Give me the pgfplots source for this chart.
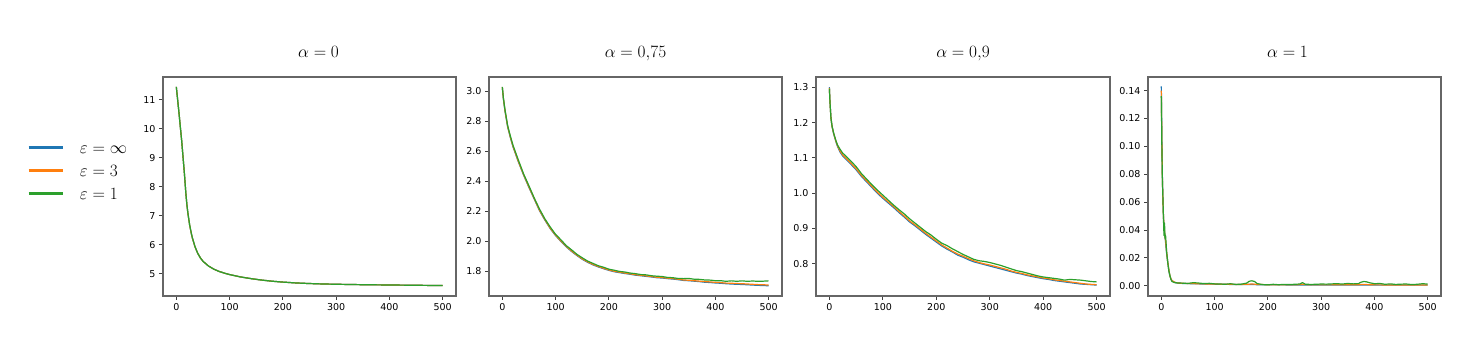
\documentclass[border=0pt]{standalone}
\usepackage{pgfplots}
\pgfplotsset{compat=1.18}
\usepackage{pgfplotstable}
\usepackage{fontspec}
\setmainfont{DejaVu Sans}
\definecolor{c1}{HTML}{1F77B4}
\definecolor{c2}{HTML}{FF7F0E}
\definecolor{c3}{HTML}{2CA02C}

\pgfplotstableread{
x a b c
0 11.45 11.45 11.45
5 10.55 10.55 10.55
10 9.60 9.60 9.60
15 8.50 8.50 8.50
18 7.75 7.75 7.76
20 7.35 7.35 7.36
22 7.05 7.05 7.06
25 6.68 6.68 6.69
28 6.40 6.40 6.41
30 6.24 6.24 6.25
35 5.93 5.93 5.94
40 5.71 5.71 5.71
45 5.55 5.55 5.55
50 5.43 5.43 5.43
60 5.27 5.27 5.27
70 5.16 5.16 5.16
80 5.08 5.08 5.08
90 5.02 5.02 5.02
100 4.97 4.97 4.97
120 4.89 4.89 4.89
140 4.83 4.83 4.83
160 4.78 4.78 4.78
180 4.74 4.74 4.74
200 4.71 4.71 4.71
225 4.68 4.68 4.68
250 4.66 4.66 4.66
275 4.645 4.645 4.645
300 4.635 4.635 4.635
350 4.62 4.62 4.62
400 4.61 4.61 4.61
450 4.60 4.60 4.60
500 4.59 4.59 4.59
}\tA

\pgfplotstableread{
x a b c
0 3.026 3.028 3.030
2 2.951 2.953 2.956
5 2.869 2.872 2.877
10 2.763 2.766 2.772
15 2.693 2.696 2.703
20 2.631 2.634 2.641
30 2.531 2.534 2.543
40 2.441 2.444 2.449
50 2.359 2.362 2.370
60 2.281 2.284 2.288
70 2.203 2.206 2.214
80 2.141 2.144 2.149
90 2.084 2.087 2.095
100 2.038 2.041 2.046
110 1.999 2.002 2.010
120 1.963 1.966 1.971
130 1.932 1.935 1.943
140 1.905 1.908 1.913
150 1.880 1.883 1.890
160 1.860 1.863 1.868
170 1.843 1.846 1.853
180 1.829 1.832 1.837
190 1.817 1.820 1.827
200 1.806 1.809 1.814
210 1.797 1.800 1.807
220 1.791 1.794 1.799
230 1.785 1.788 1.795
240 1.780 1.783 1.788
250 1.774 1.777 1.784
260 1.770 1.773 1.778
270 1.766 1.769 1.776
280 1.762 1.765 1.770
290 1.757 1.760 1.767
300 1.755 1.758 1.765
310 1.751 1.754 1.759
320 1.748 1.751 1.757
330 1.744 1.747 1.752
340 1.739 1.742 1.751
350 1.737 1.740 1.752
360 1.734 1.737 1.747
370 1.731 1.734 1.746
380 1.727 1.731 1.742
390 1.725 1.729 1.741
400 1.722 1.726 1.737
410 1.720 1.724 1.737
420 1.717 1.721 1.733
430 1.715 1.720 1.736
440 1.713 1.718 1.733
450 1.712 1.717 1.736
460 1.710 1.715 1.733
470 1.708 1.713 1.735
480 1.706 1.711 1.733
490 1.705 1.710 1.734
500 1.703 1.708 1.736
}\tB

\pgfplotstableread{
x a b c
0 1.300 1.298 1.296
1 1.264 1.263 1.262
2 1.237 1.236 1.236
3 1.212 1.212 1.212
5 1.189 1.189 1.190
8 1.168 1.169 1.170
12 1.147 1.148 1.150
15 1.133 1.135 1.137
20 1.116 1.119 1.124
25 1.105 1.108 1.113
30 1.097 1.100 1.106
40 1.082 1.085 1.091
50 1.066 1.069 1.075
60 1.047 1.050 1.055
70 1.031 1.034 1.039
80 1.015 1.018 1.023
90 0.999 1.002 1.008
100 0.985 0.988 0.994
110 0.972 0.975 0.980
120 0.959 0.962 0.966
130 0.945 0.948 0.953
140 0.932 0.935 0.941
150 0.918 0.921 0.927
160 0.907 0.910 0.915
170 0.895 0.898 0.903
180 0.883 0.886 0.891
190 0.872 0.875 0.881
200 0.861 0.864 0.869
210 0.850 0.853 0.858
220 0.841 0.844 0.851
230 0.833 0.835 0.842
240 0.824 0.827 0.834
250 0.818 0.821 0.826
260 0.811 0.814 0.819
270 0.805 0.808 0.812
280 0.801 0.803 0.808
290 0.797 0.799 0.806
300 0.793 0.796 0.803
310 0.789 0.792 0.799
320 0.785 0.788 0.795
330 0.781 0.784 0.790
340 0.777 0.779 0.785
350 0.773 0.775 0.780
360 0.770 0.772 0.777
370 0.766 0.768 0.773
380 0.763 0.765 0.769
390 0.760 0.762 0.765
400 0.757 0.759 0.762
410 0.755 0.757 0.760
420 0.752 0.754 0.758
430 0.750 0.752 0.756
440 0.748 0.750 0.753
450 0.746 0.748 0.755
460 0.744 0.746 0.754
470 0.742 0.744 0.753
480 0.741 0.742 0.751
490 0.740 0.741 0.749
500 0.739 0.740 0.748
}\tC

\pgfplotstableread{
x a b c
0 0.143 0.140 0.136
1 0.105 0.103 0.100
2 0.078 0.077 0.075
3 0.062 0.061 0.063
4 0.050 0.050 0.048
5 0.042 0.042 0.036
6 0.038 0.039 0.045
7 0.035 0.035 0.034
8 0.031 0.032 0.036
9 0.027 0.028 0.030
10 0.023 0.024 0.024
12 0.017 0.017 0.017
14 0.011 0.012 0.011
16 0.0070 0.0072 0.0075
18 0.0048 0.0050 0.0045
20 0.0035 0.0036 0.0030
25 0.0024 0.0025 0.0022
30 0.0019 0.0020 0.0020
40 0.0016 0.0017 0.0018
50 0.0015 0.0016 0.0016
60 0.0014 0.0015 0.0022
70 0.0013 0.0014 0.0019
80 0.0012 0.0013 0.0015
90 0.0012 0.0012 0.0017
100 0.0011 0.0012 0.0013
110 0.0010 0.0011 0.0012
120 0.0010 0.0010 0.0010
130 0.0009 0.0010 0.0014
140 0.0009 0.0009 0.0009
150 0.0008 0.0009 0.0011
160 0.0008 0.0010 0.0018
165 0.0008 0.0011 0.0032
170 0.0008 0.0012 0.0035
175 0.0008 0.0011 0.0030
180 0.0007 0.0009 0.0015
190 0.0007 0.0008 0.0008
200 0.0006 0.0007 0.0006
210 0.0006 0.0007 0.0010
220 0.0006 0.0006 0.0007
230 0.0006 0.0007 0.0009
240 0.0005 0.0006 0.0008
250 0.0005 0.0006 0.0010
260 0.0005 0.0008 0.0012
265 0.0005 0.0010 0.0022
270 0.0005 0.0008 0.0011
280 0.0005 0.0006 0.0009
290 0.0005 0.0006 0.0010
300 0.0005 0.0006 0.0012
310 0.0005 0.0006 0.0011
320 0.0005 0.0006 0.0013
330 0.0005 0.0007 0.0014
340 0.0005 0.0006 0.0012
350 0.0005 0.0007 0.0016
360 0.0005 0.0006 0.0013
370 0.0005 0.0007 0.0015
375 0.0005 0.0008 0.0025
380 0.0005 0.0009 0.0030
385 0.0005 0.0008 0.0028
390 0.0005 0.0007 0.0022
400 0.0005 0.0006 0.0014
410 0.0004 0.0006 0.0016
420 0.0004 0.0005 0.0010
430 0.0004 0.0005 0.0013
440 0.0004 0.0005 0.0009
450 0.0004 0.0005 0.0011
460 0.0004 0.0005 0.0012
470 0.0004 0.0005 0.0008
480 0.0004 0.0005 0.0010
490 0.0004 0.0005 0.0014
500 0.0004 0.0005 0.0012
}\tD

\pgfplotsset{
  base/.style={
    scale only axis, width=293pt, height=219pt, anchor=south west,
    xmin=-25, xmax=525, xtick={0,100,200,300,400,500},
    tick align=outside, xtick pos=bottom, ytick pos=left,
    major tick length=4pt,
    tick style={black!75, line width=0.8pt},
    axis line style={black!60, line width=1.1pt},
    tick label style={font=\fontsize{9.5}{11}\selectfont},
    /pgf/number format/assume math mode=true,
    title style={font=\fontsize{19}{21}\selectfont, at={(0.5,1)}, anchor=base, yshift=13.5pt},
    every axis plot/.append style={line width=1.2pt, line join=round},
  }
}

\begin{document}
\begin{tikzpicture}
\path[use as bounding box] (0,0) rectangle (1461pt,345pt);

\begin{axis}[base, at={(163pt,49pt)},
  ymin=4.23, ymax=11.79, ytick={5,6,7,8,9,10,11},
  title={$\alpha = 0$}, title style={xshift=9pt},
  legend style={at={(-0.463,0.572)}, anchor=west, draw=none, fill=none,
    inner sep=0pt, outer sep=0pt,
    font=\fontsize{17}{19}\selectfont, row sep=11pt,
    nodes={inner sep=0pt, text height=12pt, text depth=0pt},
    /tikz/every odd column/.append style={column sep=16pt}},
  legend cell align=left,
  legend image code/.code={\draw[line width=2.5pt] (0pt,0pt) -- (34pt,0pt);},
]
\addplot[c1] table[x=x,y=a] {\tA}; \addlegendentry{$\varepsilon = \infty$}
\addplot[c2] table[x=x,y=b] {\tA}; \addlegendentry{$\varepsilon = 3$}
\addplot[c3] table[x=x,y=c] {\tA}; \addlegendentry{$\varepsilon = 1$}
\end{axis}

\begin{axis}[base, at={(489pt,49pt)},
  ymin=1.635, ymax=3.096, ytick={1.8,2.0,2.2,2.4,2.6,2.8,3.0},
  yticklabel style={/pgf/number format/.cd, fixed, fixed zerofill, precision=1},
  title={$\alpha = 0{,}75$},
]
\addplot[c1] table[x=x,y=a] {\tB};
\addplot[c2] table[x=x,y=b] {\tB};
\addplot[c3] table[x=x,y=c] {\tB};
\end{axis}

\begin{axis}[base, at={(816pt,49pt)}, width=294pt,
  ymin=0.708, ymax=1.329, ytick={0.8,0.9,1.0,1.1,1.2,1.3},
  yticklabel style={/pgf/number format/.cd, fixed, fixed zerofill, precision=1},
  title={$\alpha = 0{,}9$},
]
\addplot[c1] table[x=x,y=a] {\tC};
\addplot[c2] table[x=x,y=b] {\tC};
\addplot[c3] table[x=x,y=c] {\tC};
\end{axis}

\begin{axis}[base, at={(1148pt,49pt)},
  ymin=-0.0074, ymax=0.1498, ytick={0,0.02,0.04,0.06,0.08,0.10,0.12,0.14},
  yticklabel style={/pgf/number format/.cd, fixed, fixed zerofill, precision=2},
  title={$\alpha = 1$}, title style={xshift=-7pt},
]
\addplot[c1] table[x=x,y=a] {\tD};
\addplot[c2] table[x=x,y=b] {\tD};
\addplot[c3] table[x=x,y=c] {\tD};
\end{axis}
\end{tikzpicture}
\end{document}
